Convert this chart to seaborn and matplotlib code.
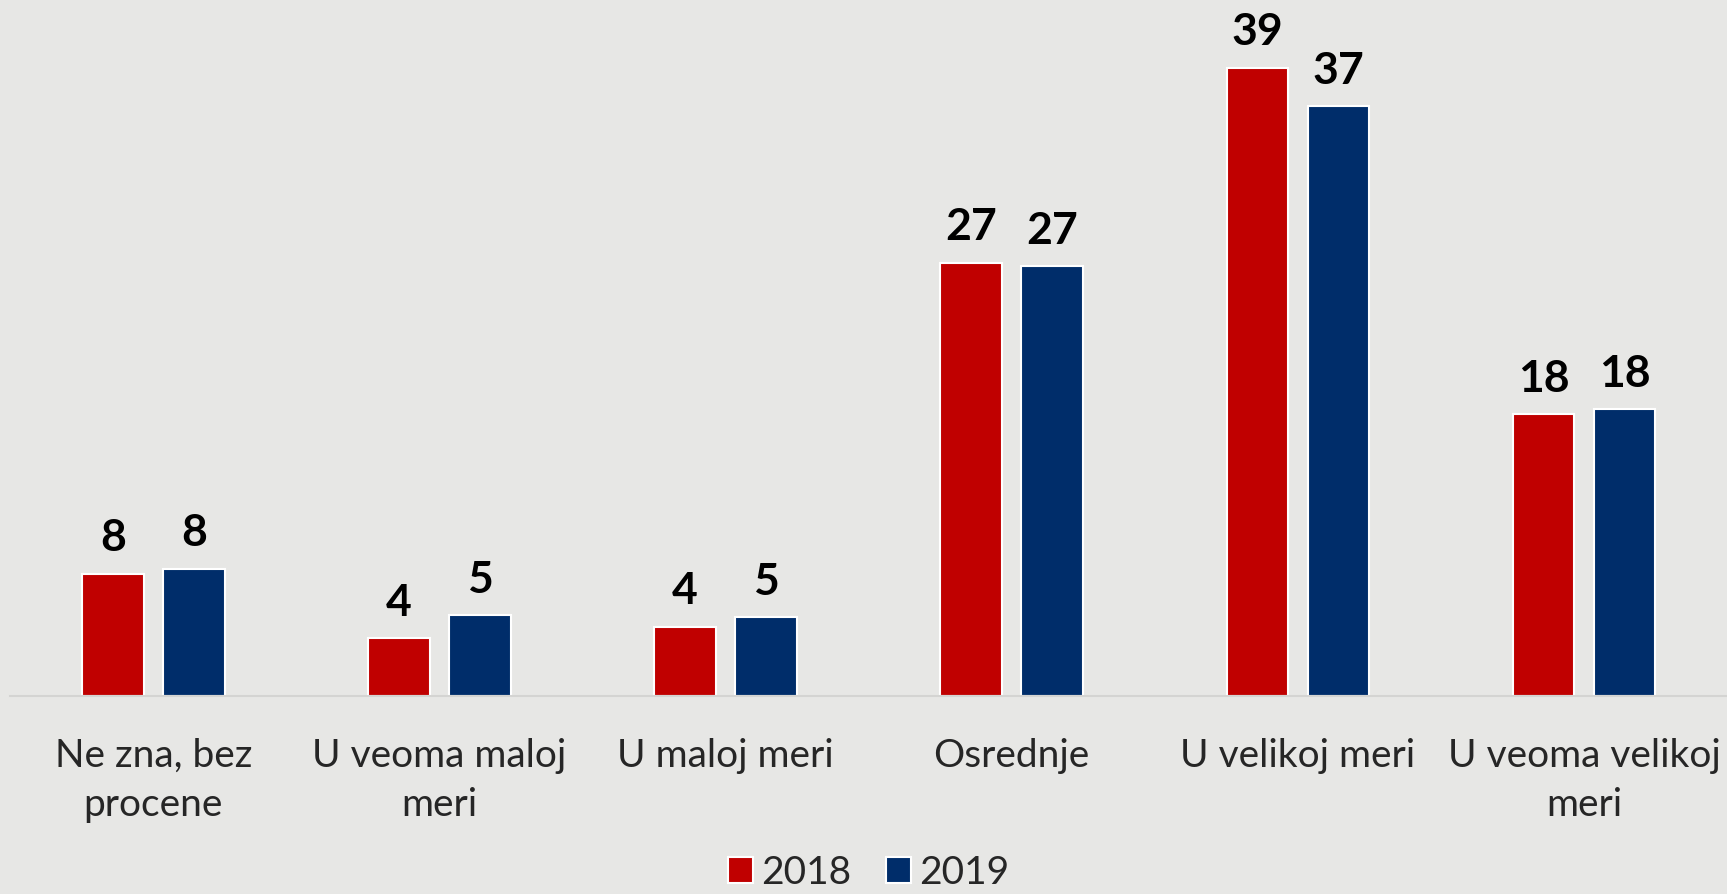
import pandas as pd
import matplotlib.pyplot as plt
import seaborn as sns

# === DATA ===
kategorije = ['Ne zna, bez\nprocene', 'U veoma maloj\nmeri', 'U maloj meri',
              'Osrednje', 'U velikoj meri', 'U veoma velikoj\nmeri']
godine = ['2018', '2019']
vrednosti_2018 = [7.6, 3.6, 4.3, 26.9, 39.0, 17.5]
vrednosti_2019 = [7.9, 5.0, 4.9, 26.7, 36.6, 17.8]

df = pd.DataFrame({
    'Kategorija': kategorije * 2,
    'Godina': [godine[0]] * len(kategorije) + [godine[1]] * len(kategorije),
    'Vrednost': vrednosti_2018 + vrednosti_2019,
})

# === CHART ===
bg = '#e7e7e5'
boje = {'2018': '#c00000', '2019': '#002d6a'}

sns.set_style('white')
plt.rcParams['font.family'] = ['Lato', 'DejaVu Sans']

fig = plt.figure(figsize=(17.27, 8.94), dpi=100, facecolor=bg)
ax = fig.add_axes([0.006, 0.2215, 0.994, 0.7785], facecolor=bg)

sns.barplot(data=df, x='Kategorija', y='Vrednost', hue='Godina',
            palette=boje, saturation=1, width=0.566, gap=0.24,
            edgecolor='white', linewidth=1.5, ax=ax)

for cont in ax.containers:
    ax.bar_label(cont, fmt='%.0f', padding=11, fontsize=32,
                 fontweight='bold', color='black')

ax.set_ylim(0, 43.2)
ax.set_xlim(-0.5, 5.5)
ax.set_yticks([])
ax.set_xlabel('')
ax.set_ylabel('')
for s in ['top', 'right', 'left']:
    ax.spines[s].set_visible(False)
ax.spines['bottom'].set_color('#d4d4d2')
ax.spines['bottom'].set_linewidth(1.5)
ax.tick_params(axis='x', length=0, pad=30, labelsize=28)
for t in ax.get_xticklabels():
    t.set_linespacing(1.45)

ax.legend(loc='center', bbox_to_anchor=(0.5, -0.254), ncol=2,
          frameon=False, fontsize=28, handlelength=0.65, handleheight=0.65,
          handletextpad=0.2, columnspacing=0.9)

plt.savefig('out.png', dpi=100, facecolor=bg)
